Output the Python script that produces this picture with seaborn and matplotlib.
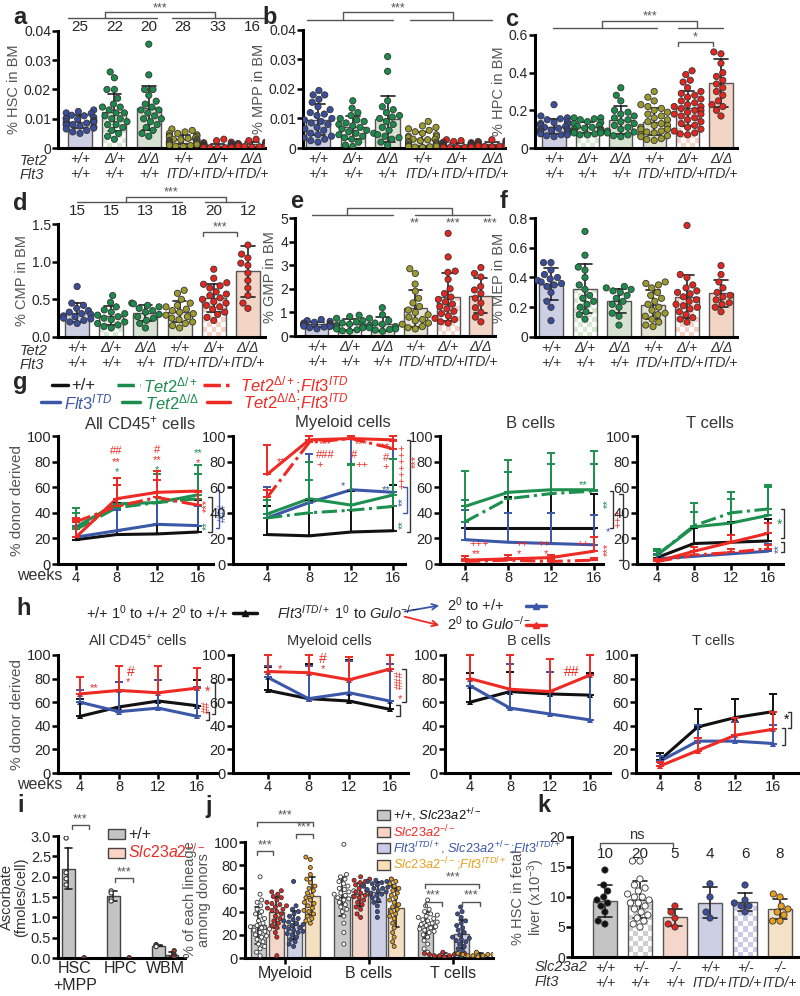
import numpy as np
import pandas as pd
import matplotlib
matplotlib.use("Agg")
import matplotlib.pyplot as plt
import seaborn as sns
from matplotlib.colors import ListedColormap
from matplotlib.lines import Line2D
from matplotlib.patches import Rectangle, FancyArrowPatch

sns.set_style("ticks")
plt.rcParams["font.family"] = ["Liberation Sans", "DejaVu Sans"]
plt.rcParams["mathtext.fontset"] = "custom"
plt.rcParams["mathtext.rm"] = "Liberation Sans"
plt.rcParams["mathtext.it"] = "Liberation Sans:italic"
plt.rcParams["mathtext.bf"] = "Liberation Sans:bold"

# ---------------- data: panels a-f (one list per genotype) ----------------
geno_ticks = ["+/+\n+/+", "Δ/+\n+/+", "Δ/Δ\n+/+", "+/+\nITD/+", "Δ/+\nITD/+", "Δ/Δ\nITD/+"]
n_top = [25, 22, 20, 28, 33, 16]
n_mid = [15, 15, 13, 18, 20, 12]

hsc = [
    [0.0130, 0.0125, 0.0120, 0.0118, 0.0112, 0.0110, 0.0105, 0.0102, 0.0100, 0.0098, 0.0095, 0.0092, 0.0090,
     0.0088, 0.0085, 0.0082, 0.0080, 0.0078, 0.0075, 0.0072, 0.0068, 0.0065, 0.0060, 0.0055, 0.0050],
    [0.026, 0.024, 0.020, 0.020, 0.017, 0.015, 0.014, 0.014, 0.013, 0.012, 0.012, 0.011, 0.010, 0.010, 0.009,
     0.008, 0.007, 0.006, 0.005, 0.004, 0.003, 0.008],
    [0.0355, 0.025, 0.020, 0.020, 0.018, 0.016, 0.015, 0.014, 0.013, 0.013, 0.012, 0.011, 0.010, 0.010, 0.009,
     0.008, 0.007, 0.006, 0.005, 0.004],
    [0.0065, 0.006, 0.0055, 0.005, 0.005, 0.0045, 0.0042, 0.004, 0.0038, 0.0035, 0.0033, 0.003, 0.003, 0.0028,
     0.0026, 0.0025, 0.0023, 0.0022, 0.002, 0.0018, 0.0016, 0.0015, 0.0013, 0.0012, 0.001, 0.0008, 0.0006, 0.0005],
    [0.003, 0.0025, 0.002, 0.0018, 0.0015, 0.0014, 0.0012, 0.0011, 0.001, 0.001, 0.0009, 0.0009, 0.0008, 0.0008,
     0.0007, 0.0007, 0.0006, 0.0006, 0.0005, 0.0005, 0.0005, 0.0004, 0.0004, 0.0004, 0.0003, 0.0003, 0.0003,
     0.0002, 0.0002, 0.0002, 0.0001, 0.0001, 0.0001],
    [0.003, 0.0025, 0.002, 0.0018, 0.0015, 0.0014, 0.0012, 0.0011, 0.001, 0.0009, 0.0008, 0.0007, 0.0006,
     0.0005, 0.0004, 0.0003],
]
mpp = [
    [0.0195, 0.018, 0.018, 0.0165, 0.0155, 0.014, 0.013, 0.012, 0.0115, 0.011, 0.010, 0.0095, 0.009, 0.0085,
     0.008, 0.007, 0.0065, 0.006, 0.005, 0.0045, 0.004, 0.0035, 0.003, 0.0025, 0.002],
    [0.016, 0.0135, 0.012, 0.011, 0.010, 0.0095, 0.009, 0.0085, 0.008, 0.0075, 0.007, 0.0065, 0.006, 0.0055,
     0.005, 0.0045, 0.004, 0.0035, 0.003, 0.002, 0.001, 0.0005],
    [0.031, 0.026, 0.016, 0.014, 0.013, 0.012, 0.011, 0.0105, 0.010, 0.009, 0.008, 0.007, 0.006, 0.005, 0.0045,
     0.004, 0.0035, 0.003, 0.002, 0.001],
    [0.009, 0.0075, 0.007, 0.0065, 0.006, 0.0055, 0.005, 0.0045, 0.004, 0.0038, 0.0035, 0.003, 0.003, 0.0028,
     0.0025, 0.0022, 0.002, 0.0018, 0.0015, 0.0012, 0.001, 0.001, 0.0008, 0.0006, 0.0005, 0.0004, 0.0003, 0.0002],
    [0.0028, 0.0025, 0.0022, 0.002, 0.0018, 0.0016, 0.0015, 0.0014, 0.0013, 0.0012, 0.0012, 0.0011, 0.001,
     0.001, 0.0009, 0.0009, 0.0008, 0.0008, 0.0008, 0.0007, 0.0007, 0.0006, 0.0006, 0.0005, 0.0005, 0.0004,
     0.0004, 0.0003, 0.0003, 0.0002, 0.0002, 0.0001, 0.0001],
    [0.0028, 0.0025, 0.0022, 0.002, 0.0018, 0.0016, 0.0015, 0.0013, 0.0012, 0.001, 0.0009, 0.0008, 0.0007,
     0.0006, 0.0005, 0.0004],
]
hpc = [
    [0.23, 0.17, 0.16, 0.155, 0.15, 0.14, 0.135, 0.13, 0.125, 0.12, 0.115, 0.11, 0.105, 0.10, 0.10, 0.095,
     0.09, 0.09, 0.085, 0.08, 0.075, 0.07, 0.07, 0.065, 0.06],
    [0.16, 0.16, 0.155, 0.15, 0.14, 0.135, 0.13, 0.12, 0.115, 0.11, 0.105, 0.10, 0.10, 0.095, 0.09, 0.09,
     0.085, 0.08, 0.08, 0.075, 0.07, 0.07],
    [0.32, 0.28, 0.25, 0.20, 0.19, 0.18, 0.17, 0.16, 0.15, 0.14, 0.13, 0.12, 0.11, 0.10, 0.09, 0.085, 0.08,
     0.07, 0.065, 0.06],
    [0.30, 0.27, 0.25, 0.23, 0.22, 0.21, 0.20, 0.19, 0.18, 0.17, 0.16, 0.15, 0.14, 0.13, 0.12, 0.12, 0.11,
     0.10, 0.10, 0.09, 0.085, 0.08, 0.07, 0.065, 0.06, 0.05, 0.045, 0.04],
    [0.41, 0.39, 0.36, 0.35, 0.32, 0.30, 0.29, 0.28, 0.27, 0.26, 0.25, 0.24, 0.23, 0.22, 0.22, 0.21, 0.20,
     0.20, 0.19, 0.18, 0.18, 0.17, 0.16, 0.15, 0.14, 0.13, 0.12, 0.11, 0.10, 0.09, 0.08, 0.075, 0.07],
    [0.62, 0.51, 0.50, 0.45, 0.40, 0.38, 0.36, 0.34, 0.32, 0.30, 0.28, 0.25, 0.23, 0.22, 0.20, 0.17],
]
cmp_ = [
    [0.67, 0.45, 0.42, 0.38, 0.35, 0.33, 0.31, 0.30, 0.28, 0.27, 0.25, 0.24, 0.22, 0.20, 0.18],
    [0.55, 0.46, 0.40, 0.36, 0.33, 0.31, 0.29, 0.27, 0.25, 0.23, 0.20, 0.18, 0.16, 0.14, 0.12],
    [0.45, 0.44, 0.42, 0.40, 0.38, 0.35, 0.33, 0.30, 0.27, 0.25, 0.22, 0.18, 0.12],
    [0.62, 0.58, 0.50, 0.45, 0.42, 0.40, 0.37, 0.35, 0.33, 0.31, 0.29, 0.27, 0.25, 0.23, 0.20, 0.18, 0.15, 0.12],
    [0.90, 0.78, 0.72, 0.70, 0.68, 0.65, 0.60, 0.57, 0.55, 0.52, 0.50, 0.47, 0.45, 0.42, 0.40, 0.37, 0.33,
     0.30, 0.26, 0.22],
    [1.55, 1.22, 1.10, 1.05, 0.98, 0.95, 0.85, 0.75, 0.65, 0.55, 0.45, 0.38],
]
gmp = [
    [0.70, 0.65, 0.62, 0.58, 0.55, 0.52, 0.50, 0.48, 0.46, 0.44, 0.42, 0.40, 0.38, 0.35, 0.30],
    [0.88, 0.82, 0.75, 0.65, 0.60, 0.55, 0.50, 0.45, 0.42, 0.38, 0.35, 0.30, 0.26, 0.22, 0.20],
    [1.20, 0.90, 0.75, 0.65, 0.55, 0.50, 0.45, 0.40, 0.35, 0.30, 0.28, 0.25, 0.20],
    [2.85, 2.65, 2.20, 1.90, 1.60, 1.40, 1.25, 1.10, 1.00, 0.90, 0.80, 0.70, 0.65, 0.55, 0.50, 0.40, 0.35, 0.30],
    [4.35, 3.35, 2.75, 2.70, 2.40, 2.00, 1.80, 1.65, 1.55, 1.45, 1.35, 1.25, 1.15, 1.05, 0.95, 0.85, 0.75,
     0.70, 0.60, 0.55],
    [2.90, 2.65, 2.50, 2.10, 1.95, 1.80, 1.60, 1.40, 1.20, 1.00, 0.80, 0.60],
]
mep = [
    [0.50, 0.50, 0.45, 0.42, 0.40, 0.39, 0.38, 0.37, 0.36, 0.35, 0.34, 0.30, 0.24, 0.20, 0.11],
    [0.71, 0.55, 0.47, 0.45, 0.40, 0.35, 0.32, 0.28, 0.26, 0.24, 0.22, 0.20, 0.17, 0.15, 0.12],
    [0.34, 0.33, 0.32, 0.31, 0.30, 0.28, 0.26, 0.24, 0.22, 0.20, 0.16, 0.14, 0.08],
    [0.37, 0.36, 0.35, 0.33, 0.30, 0.28, 0.26, 0.24, 0.22, 0.20, 0.18, 0.16, 0.15, 0.14, 0.12, 0.10, 0.08, 0.07],
    [0.75, 0.42, 0.40, 0.35, 0.33, 0.31, 0.30, 0.29, 0.27, 0.25, 0.24, 0.22, 0.21, 0.20, 0.19, 0.17, 0.15,
     0.13, 0.12, 0.10],
    [0.48, 0.42, 0.37, 0.33, 0.30, 0.28, 0.27, 0.25, 0.23, 0.22, 0.20, 0.17],
]

# ---------------- data: panels g, h (means and top of error bar) ----------------
weeks = [4, 8, 12, 16]
g_names = ["wt", "flt3", "tet2_het", "tet2_ko", "het_flt3", "ko_flt3"]
g_all_mean = {"wt": [19, 23, 23.5, 25], "flt3": [21, 26, 31, 30], "tet2_het": [27, 44, 48, 51],
              "tet2_ko": [29, 47, 48, 54], "het_flt3": [33, 45, 52, 46], "ko_flt3": [21, 51, 56, 57]}
g_all_up = {"wt": [33, 48, 48, 50], "flt3": [30, 42, 48, 45], "tet2_het": [40, 62, 70, 70],
            "tet2_ko": [44, 67, 73, 77], "het_flt3": [36, 62, 66, 56], "ko_flt3": [34, 67, 73, 57]}
g_mye_mean = {"wt": [23, 22, 25, 26], "flt3": [36, 48, 58, 56], "tet2_het": [36, 40, 42, 45],
              "tet2_ko": [39, 51, 46, 54], "het_flt3": [52, 95, 98, 90], "ko_flt3": [70, 97, 98, 97]}
g_mye_up = {"wt": [45, 50, 57, 62], "flt3": [60, 86, 100, 97], "tet2_het": [50, 66, 77, 82],
            "tet2_ko": [52, 80, 78, 82], "het_flt3": [58, 100, 100, 96], "ko_flt3": [93, 100, 100, 100]}
g_b_mean = {"wt": [28, 28, 28, 28], "flt3": [19, 17, 16, 15], "tet2_het": [33, 51, 55, 57],
            "tet2_ko": [45, 56, 58, 58], "het_flt3": [2, 3, 2, 3], "ko_flt3": [3, 4, 5, 10]}
g_b_up = {"wt": [45, 52, 55, 55], "flt3": [42, 40, 40, 38], "tet2_het": [50, 72, 78, 78],
          "tet2_ko": [73, 81, 87, 88], "het_flt3": [4, 5, 4, 5], "ko_flt3": [6, 7, 7, 21]}
g_t_mean = {"wt": [5, 16, 17, 18], "flt3": [4, 6, 8, 10], "tet2_het": [7, 30, 40, 43],
            "tet2_ko": [7, 29, 32, 38], "het_flt3": [2, 7, 9, 12], "ko_flt3": [2, 10, 17, 24]}
g_t_up = {"wt": [12, 28, 33, 35], "flt3": [8, 10, 12, 16], "tet2_het": [12, 48, 56, 62],
          "tet2_ko": [10, 41, 51, 60], "het_flt3": [4, 10, 12, 15], "ko_flt3": [4, 13, 23, 32]}

h_names = ["wt", "to_wt", "to_gulo"]
h_all_mean = {"wt": [48, 56, 61, 57], "to_wt": [60, 52, 55, 48], "to_gulo": [67, 70, 68, 72]}
h_all_up = {"wt": [63, 77, 79, 79], "to_wt": [70, 77, 79, 73], "to_gulo": [81, 91, 91, 89]}
h_mye_mean = {"wt": [70, 63, 61, 54], "to_wt": [81, 63, 68, 61], "to_gulo": [86, 85, 79, 88]}
h_mye_up = {"wt": [90, 92, 96, 92], "to_wt": [91, 91, 95, 92], "to_gulo": [100, 100, 98, 100]}
h_b_mean = {"wt": [60, 69, 67, 66], "to_wt": [74, 55, 50, 45], "to_gulo": [80, 71, 69, 83]}
h_b_up = {"wt": [85, 86, 86, 85], "to_wt": [100, 92, 86, 83], "to_gulo": [100, 100, 97, 100]}
h_t_mean = {"wt": [11, 39, 47, 52], "to_wt": [10, 27, 27, 25], "to_gulo": [6, 19, 32, 37]}
h_t_up = {"wt": [17, 54, 63, 67], "to_wt": [14, 41, 43, 41], "to_gulo": [9, 30, 47, 52]}

# ---------------- data: panels i, j, k ----------------
asc_cells = ["HSC\n+MPP", "HPC", "WBM"]
asc_wt = {"HSC\n+MPP": [2.95, 2.1, 1.95, 1.8], "HPC": [1.65, 1.6, 1.45, 1.4], "WBM": [0.33, 0.31, 0.30, 0.28]}
asc_ko = {"HSC\n+MPP": [0.0, 0.0, 0.0], "HPC": [0.0, 0.0, 0.0], "WBM": [0.18, 0.08, 0.05, 0.02]}

lineages = ["Myeloid", "B cells", "T cells"]
j_groups = ["wt", "slc_ko", "flt3", "slc_ko_flt3"]
j_values = {
    ("wt", "Myeloid"): [70, 55, 50, 48, 45, 42, 40, 38, 36, 34, 32, 30, 28, 27, 26, 25, 24, 23, 22, 20, 19,
                        18, 16, 14, 12, 10, 8, 5, 2],
    ("slc_ko", "Myeloid"): [58, 57, 55, 53, 52, 50, 48, 47, 46, 45, 44, 43, 42, 41, 40, 38, 36, 34, 32, 30,
                            28, 26, 22, 18, 2],
    ("flt3", "Myeloid"): [66, 45, 42, 40, 38, 36, 34, 33, 32, 31, 30, 29, 28, 27, 26, 25, 24, 23, 22, 21, 20,
                          18, 16, 14, 12, 10],
    ("slc_ko_flt3", "Myeloid"): [87, 85, 78, 72, 68, 65, 62, 60, 58, 56, 54, 52, 50, 48, 47, 45, 43, 41, 40,
                                 38, 36, 34, 32, 30],
    ("wt", "B cells"): [98, 72, 70, 68, 66, 64, 62, 60, 59, 58, 57, 56, 55, 54, 53, 52, 51, 50, 48, 46, 44,
                        42, 40, 36, 30, 22, 12],
    ("slc_ko", "B cells"): [70, 68, 67, 66, 65, 63, 62, 60, 58, 57, 56, 55, 54, 53, 52, 50, 48, 46, 44, 42,
                            38, 35],
    ("flt3", "B cells"): [68, 67, 66, 66, 65, 64, 63, 62, 62, 61, 60, 60, 59, 58, 57, 56, 55, 54, 52, 50, 48,
                          45, 40, 35],
    ("slc_ko_flt3", "B cells"): [68, 66, 64, 62, 60, 58, 56, 54, 52, 50, 48, 46, 44, 42, 40, 38, 36, 34, 30,
                                 26, 22, 18, 14, 10],
    ("wt", "T cells"): [50, 45, 42, 40, 38, 37, 36, 35, 34, 33, 32, 31, 30, 29, 28, 27, 26, 25, 24, 23, 22,
                        20, 18, 15, 12, 8, 5],
    ("slc_ko", "T cells"): [5, 4, 4, 3, 3, 3, 2, 2, 2, 1],
    ("flt3", "T cells"): [44, 40, 38, 35, 32, 30, 28, 26, 24, 22, 20, 18, 17, 16, 15, 14, 12, 10, 8, 6, 4, 2],
    ("slc_ko_flt3", "T cells"): [5, 4, 4, 3, 3, 3, 2, 2, 2, 1],
}

fetal_ticks = ["+/+\n+/+", "+/-\n+/+", "-/-\n+/+", "+/+\nITD/+", "+/-\nITD/+", "-/-\nITD/+"]
fetal_n = [10, 20, 5, 4, 6, 8]
fetal_hsc = [
    [14.5, 12, 11, 10, 9.5, 9, 8.5, 7.5, 6, 5.5],
    [16, 16, 13, 12, 11.5, 11, 10.5, 10, 10, 9.5, 9, 9, 8.5, 8, 7.5, 7, 6.5, 6, 5.5, 5],
    [8.5, 7.5, 6.5, 5.5, 5.0],
    [12.2, 10.0, 7.5, 6.5],
    [12, 9.5, 9, 8.5, 8.5, 7.5],
    [10.5, 10, 8.5, 8, 7.5, 7, 6, 6],
]

# ---------------- colours ----------------
BLUE, GREEN, OLIVE, RED, ORANGE = "#3b4e9c", "#1b8c4c", "#9c9a2e", "#e3261f", "#e8a020"
dot_cols = [BLUE, GREEN, GREEN, OLIVE, RED, RED]
fill_cols = ["#c9cbe9", "#d6e8d0", "#d5e5cf", "#e7e7cf", "#f9d0c4", "#fbd3bd"]
g_cols = {"wt": "#111111", "flt3": "#3b57a8", "tet2_het": "#1d8f4e", "tet2_ko": "#1d8f4e",
          "het_flt3": "#ee2a24", "ko_flt3": "#ee2a24"}
DD = (5, 1.5, 1, 1.5)
g_dash = {"wt": "", "flt3": "", "tet2_het": DD, "tet2_ko": "", "het_flt3": DD, "ko_flt3": ""}
h_cols = {"wt": "#111111", "to_wt": "#3b57a8", "to_gulo": "#ee2a24"}
GREY = "#555555"

W, H = 800, 996
fig = plt.figure(figsize=(8, 9.96), dpi=100)


def box(x0, y0, x1, y1):
    return fig.add_axes([x0 / W, 1 - y1 / H, (x1 - x0) / W, (y1 - y0) / H])


def ftext(x, y, s, **kw):
    kw.setdefault("ha", "center")
    kw.setdefault("va", "center")
    fig.text(x / W, 1 - y / H, s, **kw)


def fline(xs, ys, color=GREY, lw=1.0):
    fig.add_artist(Line2D([x / W for x in xs], [1 - y / H for y in ys], color=color, lw=lw))


def bracket(x0, x1, y, up=4, color=GREY):
    fline([x0, x0, x1, x1], [y + up, y, y, y + up], color=color)


def style(ax):
    sns.despine(ax=ax)
    for s in ["left", "bottom"]:
        ax.spines[s].set_linewidth(2.2)
        ax.spines[s].set_color("black")
    ax.tick_params(axis="both", width=1.8, length=4, labelsize=10, pad=1, color="black")


def checker(ax, bar, color, cell=5):
    x0, y0, w, h = bar.get_x(), bar.get_y(), bar.get_width(), bar.get_height()
    (px0, py0), (px1, py1) = ax.transData.transform([(x0, y0), (x0 + w, y0 + h)])
    nx = max(1, int(round(abs(px1 - px0) / cell)))
    ny = max(1, int(round(abs(py1 - py0) / cell)))
    grid = np.add.outer(np.arange(ny), np.arange(nx)) % 2
    im = ax.imshow(grid, cmap=ListedColormap(["white", color]), extent=[x0, x0 + w, y0, y0 + h],
                   aspect="auto", interpolation="nearest", origin="lower", zorder=0.5)
    im.set_clip_path(bar)
    bar.set_facecolor("none")


def dotbar(ax, groups, fills, dots, xlim, ylim, yticks, yticklabels, ylabel, ticks,
           checks=(), size=4.5, bar_w=0.7):
    keys = [str(i) for i in range(len(groups))]
    df = pd.DataFrame({"g": np.repeat(keys, [len(v) for v in groups]), "v": np.concatenate(groups)})
    sns.barplot(data=df, x="g", y="v", hue="g", order=keys, hue_order=keys, palette=fills,
                errorbar="sd", capsize=0.4, width=bar_w, err_kws={"color": "#222222", "linewidth": 1.2},
                edgecolor="#555555", linewidth=1, legend=False, ax=ax)
    sns.swarmplot(data=df, x="g", y="v", hue="g", order=keys, hue_order=keys, palette=dots,
                  size=size, edgecolor="#333333", linewidth=0.6, legend=False, ax=ax, warn_thresh=1)
    ax.set_xlim(xlim)
    ax.set_ylim(ylim)
    for i in checks:
        checker(ax, ax.patches[i], fills[i])
    ax.set_xlim(xlim)
    ax.set_ylim(ylim)
    ax.set_yticks(yticks)
    ax.set_yticklabels(yticklabels)
    ax.set_xticks(range(len(groups)))
    ax.set_xticklabels(ticks, style="italic", fontsize=9.5, color="#333333", linespacing=1.05)
    ax.set_xlabel("")
    ax.set_ylabel(ylabel, fontsize=10.5, color=GREY, labelpad=2)
    style(ax)
    ax.tick_params(axis="x", length=0, pad=3)


def linepanel(ax, names, means, ups, colors, dashes, xlim, markers=False):
    df = pd.DataFrame([(n, w, m) for n in names for w, m in zip(weeks, means[n])], columns=["s", "w", "v"])
    kw = {"markersize": 4.5, "markeredgewidth": 0} if markers else {}
    sns.lineplot(data=df, x="w", y="v", hue="s", style="s", hue_order=names, style_order=names,
                 palette=colors, dashes=dashes, markers=markers, linewidth=2.2, errorbar=None,
                 legend=False, ax=ax, **kw)
    for n in names:
        eb = ax.errorbar(weeks, means[n], yerr=[np.zeros(len(weeks)), np.subtract(ups[n], means[n])],
                         fmt="none", ecolor=colors[n], elinewidth=1.4, capsize=3, capthick=1.4)
        for a in list(eb.lines[1]) + list(eb.lines[2]):
            a.set_clip_on(False)
    for ln in ax.lines:
        ln.set_clip_on(False)
    ax.set_xlim(xlim)
    ax.set_ylim(0, 100)
    ax.set_xticks(weeks)
    ax.set_yticks(range(0, 101, 20))
    ax.set_xlabel("")
    ax.set_ylabel("")
    style(ax)
    ax.tick_params(labelsize=10.5)


def note(ax, x, y, s, color, rot=0, fs=8):
    ax.text(x, y, s, color=color, rotation=rot, ha="center", va="center", fontsize=fs, clip_on=False)


def vbracket(ax, x, y0, y1, color="#333333", d=0.35):
    ax.plot([x - d, x, x, x - d], [y0, y0, y1, y1], color=color, lw=1, clip_on=False)


# ---------------- a-c ----------------
ax_a = box(58, 31, 265, 148)
dotbar(ax_a, hsc, fill_cols, dot_cols, (-0.64, 5.38), (0, 0.04), [0, 0.01, 0.02, 0.03, 0.04],
       ["0", "0.01", "0.02", "0.03", "0.04"], "% HSC in BM", geno_ticks, checks=(1, 4))
for i, n in enumerate(n_top):
    ax_a.text(i, 1.035, str(n), transform=ax_a.get_xaxis_transform(), ha="center", va="center", fontsize=11)
ax_b = box(303, 30, 505, 148)
dotbar(ax_b, mpp, fill_cols, dot_cols, (-0.43, 5.37), (0, 0.04), [0, 0.01, 0.02, 0.03, 0.04],
       ["0", "0.01", "0.02", "0.03", "0.04"], "% MPP in BM", geno_ticks, checks=(1, 4))
ax_c = box(535, 35, 737, 148)
dotbar(ax_c, hpc, fill_cols, dot_cols, (-0.57, 5.48), (0, 0.6), [0, 0.2, 0.4, 0.6],
       ["0", "0.2", "0.4", "0.6"], "% HPC in BM", geno_ticks, checks=(1, 4))

# ---------------- d-f ----------------
ax_d = box(58, 224, 265, 337)
dotbar(ax_d, cmp_, fill_cols, dot_cols, (-0.56, 5.5), (0, 1.5), [0, 0.5, 1.0, 1.5],
       ["0.0", "0.5", "1.0", "1.5"], "% CMP in BM", geno_ticks, checks=(1, 4))
for i, n in enumerate(n_mid):
    ax_d.text(i, 1.115, str(n), transform=ax_d.get_xaxis_transform(), ha="center", va="center", fontsize=11)
ax_e = box(295, 218, 495, 336)
dotbar(ax_e, gmp, fill_cols, dot_cols, (-0.67, 5.43), (0, 5), [0, 1, 2, 3, 4, 5],
       ["0", "1", "2", "3", "4", "5"], "% GMP in BM", geno_ticks, checks=(1, 4))
ax_f = box(535, 218, 737, 337)
dotbar(ax_f, mep, fill_cols, dot_cols, (-0.47, 5.47), (0, 0.8), [0, 0.2, 0.4, 0.6, 0.8],
       ["0", "0.2", "0.4", "0.6", "0.8"], "% MEP in BM", geno_ticks, checks=(1, 4))

for yy in (160, 350):
    ftext(20, yy + 1, "Tet2", style="italic", fontsize=10.5, ha="left", color="#333333")
    ftext(20, yy + 15, "Flt3", style="italic", fontsize=10.5, ha="left", color="#333333")

# significance brackets a-f
fline([68, 157], [18, 18]); fline([172, 265], [18, 18]); fline([105, 105, 215, 215], [18, 12, 12, 18])
ftext(160, 8, "***", fontsize=9, color=GREY)
fline([307, 393], [20, 20]); fline([410, 492], [20, 20]); fline([343, 343, 453, 453], [20, 12, 12, 20])
ftext(398, 8, "***", fontsize=9, color=GREY)
fline([553, 657], [28, 28]); fline([678, 723], [28, 28]); fline([602, 602, 697, 697], [28, 21, 21, 28])
ftext(650, 16, "***", fontsize=9, color=GREY)
bracket(678, 713, 42); ftext(695, 37, "*", fontsize=9, color=GREY)
fline([77, 182], [202, 202]); fline([205, 245], [202, 202]); fline([126, 126, 226, 226], [202, 197, 197, 202])
ftext(171, 192, "***", fontsize=9, color=GREY)
bracket(203, 237, 232); ftext(220, 227, "***", fontsize=9, color=GREY)
fline([312, 393], [215, 215]); fline([415, 490], [215, 215]); fline([347, 347, 452, 452], [215, 208, 208, 215])
for xx, s in [(415, "**"), (453, "***"), (490, "***")]:
    ftext(xx, 223, s, fontsize=9, color=GREY)

# ---------------- g ----------------
fline([52, 68], [385, 385], color="#111111", lw=2.5)
ftext(71, 386, "+/+", fontsize=12, ha="left")
fig.add_artist(Line2D([117 / W, 140 / W], [1 - 385 / H] * 2, color=GREEN, lw=2.5, dashes=DD))
ftext(143, 385, r"$\mathit{Tet2}^{\Delta/+}$", fontsize=12, ha="left", color=GREEN)
fig.add_artist(Line2D([203 / W, 230 / W], [1 - 385 / H] * 2, color="#ee2a24", lw=2.5, dashes=DD))
ftext(240, 385, r"$\mathit{Tet2}^{\Delta/+}$;$\mathit{Flt3}^{\mathit{ITD}}$", fontsize=12, ha="left",
      color="#ee2a24")
fline([41, 60], [402, 402], color="#3b57a8", lw=2.5)
ftext(64, 402, r"$\mathit{Flt3}^{\mathit{ITD}}$", fontsize=12, ha="left", color="#3b57a8")
fline([122, 140], [402, 402], color=GREEN, lw=2.5)
ftext(145, 402, r"$\mathit{Tet2}^{\Delta/\Delta}$", fontsize=12, ha="left", color=GREEN)
fline([207, 230], [402, 402], color="#ee2a24", lw=2.5)
ftext(243, 402, r"$\mathit{Tet2}^{\Delta/\Delta}$;$\mathit{Flt3}^{\mathit{ITD}}$", fontsize=12, ha="left",
      color="#ee2a24")

g_axes = [box(58, 436, 213, 564), box(233, 436, 405, 564), box(440, 436, 603, 564), box(637, 436, 783, 564)]
g_lims = [(2.23, 17.5), (0.76, 17.1), (1.67, 16.84), (1.84, 17.6)]
g_data = [(g_all_mean, g_all_up), (g_mye_mean, g_mye_up), (g_b_mean, g_b_up), (g_t_mean, g_t_up)]
for ax, lim, (m, u) in zip(g_axes, g_lims, g_data):
    linepanel(ax, g_names, m, u, g_cols, g_dash, lim)
for (x, s) in [(140, "All CD45$^{+}$ cells"), (343, "Myeloid cells"), (531, "B cells"), (710, "T cells")]:
    ftext(x, 423, s, fontsize=12, color="#333333")
g_axes[0].set_ylabel("% donor derived", fontsize=11, color=GREY, labelpad=2)
ftext(40, 576, "weeks", fontsize=11.5, color="#333333")

R, G_, B_ = "#ee2a24", GREEN, "#3b57a8"
ax = g_axes[0]
for x, y, s, c in [(8, 88, "##", R), (8, 80, "**", R), (8, 72, "*", G_), (12, 89, "#", R), (12, 81, "**", R),
                   (12, 73, "*", G_), (16, 87, "**", G_), (16, 79, "*", R)]:
    note(ax, x, y, s, c)
note(ax, 16.9, 46, "***", R, rot=90); note(ax, 16.9, 30, "**", G_, rot=90); note(ax, 18.5, 40, "###", B_, rot=90)
vbracket(ax, 17.4, 25, 52); vbracket(ax, 18.1, 28, 58, color=B_)
ax = g_axes[1]
for x, y, s in [(5.3, 80, "**"), (9.5, 94, "***"), (9.5, 85, "###"), (9.0, 77, "+"), (13.0, 94, "***"),
                (12.3, 85, "#"), (13.0, 77, "++"), (15.0, 91, "***"), (15.3, 83, "#"), (15.3, 76, "+")]:
    note(ax, x, y, s, R)
note(ax, 11.2, 61, "*", B_); note(ax, 15.3, 58, "**", B_)
note(ax, 16.9, 76, "+++++++", R, rot=90); note(ax, 18.1, 80, "***", R, rot=90)
note(ax, 16.9, 49, "**", B_, rot=90); note(ax, 16.9, 31, "**", G_, rot=90)
vbracket(ax, 17.6, 25, 97); vbracket(ax, 17.3, 40, 60, color=B_)
ax = g_axes[2]
for x, y, s in [(5.3, 16, "+++"), (5.0, 8, "**"), (9.3, 16, "++"), (9.0, 8, "*"), (11.3, 16, "++"),
                (11.5, 8, "*"), (15.0, 16, "++")]:
    note(ax, x, y, s, R)
note(ax, 15.0, 62, "**", G_)
note(ax, 17.3, 47, "**", G_, rot=90); note(ax, 18.3, 36, "+++", R, rot=90)
note(ax, 17.3, 25, "*", B_); note(ax, 17.3, 11, "***", R, rot=90)
vbracket(ax, 17.8, 28, 57); vbracket(ax, 18.7, 3, 55)
ax = g_axes[3]
note(ax, 17.2, 31, "*", G_, fs=10); note(ax, 17.2, 12, "**", B_, rot=90)
vbracket(ax, 17.7, 20, 43); vbracket(ax, 17.7, 9, 17)

# ---------------- h ----------------
ftext(86, 613, "+/+ 1$^{0}$ to +/+ 2$^{0}$ to +/+", fontsize=10.5, ha="left")
fig.add_artist(Line2D([233 / W, 245 / W, 257 / W], [1 - 613 / H] * 3, color="#111111", lw=2.5,
                      marker="^", markevery=[1], markersize=5))
ftext(277, 613, r"$\mathit{Flt3}^{\mathit{ITD/+}}$ 1$^{0}$ to $\mathit{Gulo}^{-/-}$", fontsize=10.5, ha="left")
fig.add_artist(FancyArrowPatch((402 / W, 1 - 612 / H), (442 / W, 1 - 605 / H), transform=fig.transFigure,
                               arrowstyle="->", mutation_scale=10, color="#3b57a8", lw=1.3))
fig.add_artist(FancyArrowPatch((402 / W, 1 - 616 / H), (442 / W, 1 - 626 / H), transform=fig.transFigure,
                               arrowstyle="->", mutation_scale=10, color="#ee2a24", lw=1.3))
ftext(447, 605, "2$^{0}$ to +/+", fontsize=10.5, ha="left")
ftext(447, 624, r"2$^{0}$ to $\mathit{Gulo}^{-/-}$", fontsize=10.5, ha="left")
fig.add_artist(Line2D([526 / W, 536 / W, 546 / W], [1 - 606 / H] * 3, color="#3b57a8", lw=2.5,
                      marker="^", markevery=[1], markersize=5))
fig.add_artist(Line2D([526 / W, 536 / W, 546 / W], [1 - 625 / H] * 3, color="#ee2a24", lw=2.5,
                      marker="^", markevery=[1], markersize=5))

h_axes = [box(58, 655, 218, 773), box(233, 655, 408, 773), box(445, 655, 610, 773), box(636, 655, 798, 773)]
h_lims = [(1.76, 18.1), (0.56, 17.8), (1.5, 18.0), (1.45, 18.66)]
h_data = [(h_all_mean, h_all_up), (h_mye_mean, h_mye_up), (h_b_mean, h_b_up), (h_t_mean, h_t_up)]
h_dash = {n: "" for n in h_names}
h_mark = {n: "^" for n in h_names}
for ax, lim, (m, u) in zip(h_axes, h_lims, h_data):
    linepanel(ax, h_names, m, u, h_cols, h_dash, lim, markers=h_mark)
for (x, s) in [(138, "All CD45$^{+}$ cells"), (329, "Myeloid cells"), (529, "B cells"), (713, "T cells")]:
    ftext(x, 641, s, fontsize=10.5, color="#333333")
h_axes[0].set_ylabel("% donor derived", fontsize=11, color=GREY, labelpad=2)
ftext(40, 784, "weeks", fontsize=11.5, color="#333333")
ax = h_axes[0]
note(ax, 5.5, 72, "**", R); note(ax, 9.2, 86, "#", R, fs=10); note(ax, 8.9, 77, "*", R)
note(ax, 17.0, 69, "*", R, fs=10); note(ax, 17.0, 56, "##", R, rot=90)
vbracket(ax, 17.8, 50, 77); vbracket(ax, 17.2, 45, 52)
ax = h_axes[1]
note(ax, 5.2, 88, "*", R); note(ax, 9.4, 97, "#", R, fs=10); note(ax, 9.4, 88, "*", R)
note(ax, 17.0, 79, "###", R, rot=90); note(ax, 17.0, 63, "*", R)
vbracket(ax, 17.6, 60, 88); vbracket(ax, 17.0, 48, 58)
ax = h_axes[2]
note(ax, 14.2, 86, "##", R, fs=10)
ax = h_axes[3]
note(ax, 17.4, 45, "*", "#111111", fs=10); vbracket(ax, 17.9, 38, 52); vbracket(ax, 17.3, 24, 38)

# ---------------- i ----------------
ax_i = box(58, 836, 185, 958)
rows = [(c, "+/+", v) for c in asc_cells for v in asc_wt[c]] + [(c, "ko", v) for c in asc_cells for v in asc_ko[c]]
df_i = pd.DataFrame(rows, columns=["cell", "geno", "v"])
sns.barplot(data=df_i, x="cell", y="v", hue="geno", order=asc_cells, hue_order=["+/+", "ko"],
            palette=["#c4c4c4", "#fbd3c3"], errorbar="sd", capsize=0.3, width=0.6, gap=0.08,
            err_kws={"color": "#222222", "linewidth": 1.2}, edgecolor="#444444", linewidth=1,
            legend=False, ax=ax_i)
sns.stripplot(data=df_i, x="cell", y="v", hue="geno", order=asc_cells, hue_order=["+/+", "ko"],
              palette=["white", "#b5332b"], dodge=True, jitter=False, size=3, edgecolor="#333333",
              linewidth=0.8, legend=False, ax=ax_i)
ax_i.set_xlim(-0.38, 2.44)
ax_i.set_ylim(0, 3.0)
ax_i.set_yticks(np.arange(0, 3.01, 0.5))
ax_i.set_yticklabels(["0.0", "0.5", "1.0", "1.5", "2.0", "2.5", "3.0"])
ax_i.set_xlabel("")
ax_i.set_ylabel("Ascorbate\n(fmoles/cell)", fontsize=10.5, color="#333333", labelpad=2, linespacing=1.0)
style(ax_i)
ax_i.tick_params(labelsize=10.5)
ax_i.tick_params(axis="x", length=0, labelsize=11.5, pad=2)
fig.add_artist(Rectangle((108 / W, 1 - 839 / H), 17 / W, 10 / H, transform=fig.transFigure,
                         facecolor="#c4c4c4", edgecolor="#444444", lw=1))
ftext(128, 834, "+/+", fontsize=11.5, ha="left")
fig.add_artist(Rectangle((108 / W, 1 - 858 / H), 17 / W, 10 / H, transform=fig.transFigure,
                         facecolor="#fbd3c3", edgecolor="#444444", lw=1))
ftext(128, 852, r"$\mathit{Slc23a2}^{-/-}$", fontsize=11.5, ha="left", color="#ee2a24")
bracket(72, 89, 825); ftext(80, 819, "***", fontsize=9, color=GREY)
bracket(115, 133, 878); ftext(124, 872, "***", fontsize=9, color=GREY)

# ---------------- j ----------------
ax_j = box(245, 842, 493, 958)
rows = [(lin, g, v) for g in j_groups for lin in lineages for v in j_values[(g, lin)]]
df_j = pd.DataFrame(rows, columns=["lin", "grp", "v"])
sns.barplot(data=df_j, x="lin", y="v", hue="grp", order=lineages, hue_order=j_groups,
            palette=["#c8c8c8", "#fbd3c3", "#c9cbe9", "#fde0b8"], errorbar="sd", capsize=0.3, width=0.86,
            gap=0.15, err_kws={"color": "#222222", "linewidth": 1.2}, edgecolor="#555555", linewidth=1,
            legend=False, ax=ax_j)
sns.swarmplot(data=df_j, x="lin", y="v", hue="grp", order=lineages, hue_order=j_groups,
              palette=["white", RED, BLUE, ORANGE], dodge=True, size=2.9, edgecolor="#333333",
              linewidth=0.6, legend=False, ax=ax_j, warn_thresh=1)
ax_j.set_xlim(-0.48, 2.48)
ax_j.set_ylim(0, 100)
ax_j.set_yticks(range(0, 101, 20))
ax_j.set_xlabel("")
ax_j.set_ylabel("% of each lineage\namong donors", fontsize=10.5, color=GREY, labelpad=2, linespacing=1.0)
style(ax_j)
ax_j.tick_params(labelsize=10.5)
ax_j.tick_params(axis="x", length=4, labelsize=11.5, pad=2)
j_leg = [("#c8c8c8", r"+/+, $\mathit{Slc23a2}^{+/-}$", "#111111"),
         ("#fbd3c3", r"$\mathit{Slc23a2}^{-/-}$", "#ee2a24"),
         ("#c9cbe9", r"$\mathit{Flt3}^{\mathit{ITD/+}}$, $\mathit{Slc23a2}^{+/-}$;$\mathit{Flt3}^{\mathit{ITD/+}}$",
          "#3b57a8"),
         ("#fde0b8", r"$\mathit{Slc23a2}^{-/-}$;$\mathit{Flt3}^{\mathit{ITD/+}}$", ORANGE)]
for k, (fc, s, tc) in enumerate(j_leg):
    y = 815 + 16.5 * k
    fig.add_artist(Rectangle((377 / W, 1 - (y + 5) / H), 13 / W, 10 / H, transform=fig.transFigure,
                             facecolor=fc, edgecolor="#444444", lw=1))
    ftext(393, y, s, fontsize=9.3, ha="left", color=tc)
bracket(257, 273, 851); ftext(265, 845, "***", fontsize=9, color=GREY)
bracket(257, 313, 822); ftext(285, 815, "***", fontsize=9, color=GREY)
bracket(296, 313, 834); ftext(304, 827, "***", fontsize=9, color=GREY)
bracket(425, 479, 884); ftext(453, 877, "***", fontsize=9, color=GREY)
bracket(425, 442, 902); ftext(433, 895, "***", fontsize=9, color=GREY)
bracket(462, 480, 902); ftext(471, 895, "***", fontsize=9, color=GREY)

# ---------------- k ----------------
ax_k = box(572, 837, 800, 957)
dotbar(ax_k, fetal_hsc, ["#c4c4c4", "#cfcfcf", "#fbd3c3", "#c9cbe9", "#c9cbe9", "#fde2bd"],
       ["#111111", "white", RED, BLUE, BLUE, ORANGE], (-0.94, 5.57), (0, 20), [0, 5, 10, 15, 20],
       ["0", "5", "10", "15", "20"], "% HSC in fetal\nliver (x10$^{-3}$)", fetal_ticks, checks=(1, 4),
       size=4.5, bar_w=0.7)
ax_k.yaxis.label.set_linespacing(1.0)
for i, n in enumerate(fetal_n):
    ax_k.text(i, 0.86, str(n), transform=ax_k.get_xaxis_transform(), ha="center", va="center", fontsize=11)
bracket(600, 673, 843); ftext(637, 835, "ns", fontsize=10.5, color="#333333")
ftext(535, 967, "Slc23a2", style="italic", fontsize=10.5, ha="left", color="#333333")
ftext(535, 982, "Flt3", style="italic", fontsize=10.5, ha="left", color="#333333")

# ---------------- panel letters ----------------
for s, x, y in [("a", 13, 17), ("b", 262, 17), ("c", 505, 19), ("d", 13, 203), ("e", 290, 202),
                ("f", 500, 202), ("g", 13, 383), ("h", 16, 608), ("i", 17, 806), ("j", 205, 806),
                ("k", 537, 805)]:
    ftext(x, y, s, fontsize=17, fontweight="bold", ha="left")

fig.savefig("out.png", dpi=100)
